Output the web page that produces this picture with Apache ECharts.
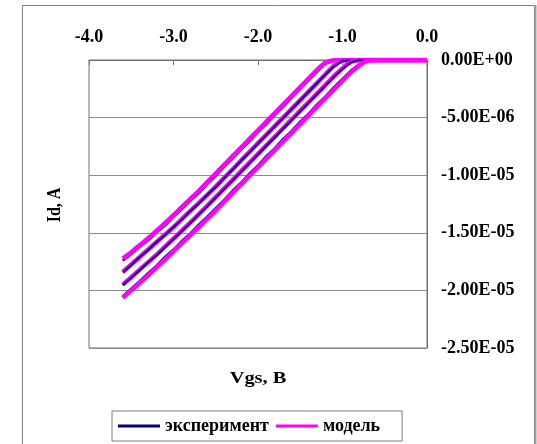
<!DOCTYPE html>
<html>
<head>
<meta charset="utf-8">
<script src="https://cdn.jsdelivr.net/npm/echarts@6/dist/echarts.min.js"></script>
<style>
  html, body { margin: 0; padding: 0; background: #ffffff; }
  #chart { width: 537px; height: 444px; }
</style>
</head>
<body>
<div id="chart"></div>
<script>
// Gate voltage, V
const vgs = [-3.6, -3.5, -3.4, -3.3, -3.2, -3.1, -3.0, -2.9, -2.8, -2.7, -2.6, -2.5, -2.4,
  -2.3, -2.2, -2.1, -2.0, -1.9, -1.8, -1.7, -1.6, -1.5, -1.4, -1.3, -1.2, -1.1, -1.0,
  -0.9, -0.8, -0.7, -0.6, -0.5, -0.4, -0.3, -0.2, -0.1, 0.0];

// Drain current, µA — model curves
const model1 = [-17.24, -16.68, -16.08, -15.47, -14.82, -14.16, -13.46, -12.76, -12.06, -11.35, -10.6, -9.85, -9.1,
  -8.35, -7.6, -6.85, -6.1, -5.35, -4.6, -3.85, -3.1, -2.35, -1.6, -0.86, -0.22, -0.02, 0,
  0, 0, 0, 0, 0, 0, 0, 0, 0, 0];
const model2 = [-18.4, -17.75, -17.1, -16.45, -15.8, -15.15, -14.5, -13.8, -13.1, -12.4, -11.7, -10.98, -10.22,
  -9.48, -8.72, -7.98, -7.22, -6.48, -5.72, -4.98, -4.22, -3.48, -2.72, -1.98, -1.22, -0.5, -0.06,
  0, 0, 0, 0, 0, 0, 0, 0, 0, 0];
const model3 = [-19.5, -18.85, -18.2, -17.55, -16.9, -16.2, -15.5, -14.8, -14.1, -13.38, -12.65, -11.9, -11.15,
  -10.4, -9.65, -8.9, -8.15, -7.4, -6.65, -5.9, -5.15, -4.4, -3.65, -2.9, -2.15, -1.4, -0.72,
  -0.18, 0, 0, 0, 0, 0, 0, 0, 0, 0];
const model4 = [-20.65, -20.0, -19.35, -18.7, -18.0, -17.3, -16.6, -15.9, -15.2, -14.5, -13.78, -13.05, -12.3,
  -11.55, -10.8, -10.05, -9.3, -8.55, -7.8, -7.05, -6.3, -5.55, -4.8, -4.05, -3.3, -2.55, -1.8,
  -1.08, -0.45, -0.08, 0, 0, 0, 0, 0, 0, 0];

// Drain current, µA — measured curves
const exp1 = [-17.4, -16.85, -16.2, -15.65, -14.95, -14.35, -13.6, -12.95, -12.2, -11.55, -10.75, -10.05, -9.25,
  -8.55, -7.75, -7.05, -6.25, -5.55, -4.75, -4.05, -3.25, -2.5, -1.75, -0.98, -0.3, -0.04, 0,
  0, 0, 0, 0, 0, 0, 0, 0, 0, 0];
const exp2 = [-18.45, -17.8, -17.1, -16.5, -15.8, -15.2, -14.5, -13.85, -13.1, -12.45, -11.7, -11.02, -10.25,
  -9.5, -8.75, -8.0, -7.25, -6.5, -5.75, -5.0, -4.25, -3.5, -2.75, -2.0, -1.25, -0.55, -0.08,
  0, 0, 0, 0, 0, 0, 0, 0, 0, 0];
const exp3 = [-19.55, -18.9, -18.25, -17.55, -16.95, -16.25, -15.55, -14.85, -14.15, -13.4, -12.7, -11.95, -11.2,
  -10.45, -9.7, -8.95, -8.2, -7.45, -6.7, -5.95, -5.2, -4.45, -3.7, -2.95, -2.2, -1.45, -0.78,
  -0.2, 0, 0, 0, 0, 0, 0, 0, 0, 0];
const exp4 = [-20.5, -19.85, -19.2, -18.5, -17.85, -17.1, -16.45, -15.7, -15.05, -14.3, -13.6, -12.85, -12.15,
  -11.35, -10.65, -9.85, -9.15, -8.35, -7.65, -6.85, -6.15, -5.35, -4.65, -3.85, -3.15, -2.35, -1.65,
  -0.92, -0.36, -0.05, 0, 0, 0, 0, 0, 0, 0];

const EXP_NAME = 'эксперимент';
const MODEL_NAME = 'модель';
const EXP_COLOR = '#000080';
const MODEL_COLOR = '#ff00ff';
const UA = 1e-6;

const FONT = '"Liberation Serif", "Times New Roman", serif';

function pairs(values) {
  return vgs.map((v, i) => [v, values[i] * UA]);
}

function expSeries(values, width) {
  return {
    name: EXP_NAME, type: 'line', data: pairs(values),
    symbol: 'none', smooth: false, animation: false,
    lineStyle: { color: EXP_COLOR, width: width },
    itemStyle: { color: EXP_COLOR }
  };
}
function modelSeries(values) {
  return {
    name: MODEL_NAME, type: 'line', data: pairs(values),
    symbol: 'none', smooth: 0.3, animation: false,
    lineStyle: { color: MODEL_COLOR, width: 4.5 },
    itemStyle: { color: MODEL_COLOR }
  };
}

function sciLabel(v) {
  const s = Number(v).toExponential(2);
  const [m, e] = s.split('e');
  const sign = e[0] === '-' ? '-' : '+';
  const digits = e.replace(/^[+-]/, '').padStart(2, '0');
  return m + 'E' + sign + digits;
}

const chart = echarts.init(document.getElementById('chart'), null, { renderer: 'canvas' });

chart.setOption({
  backgroundColor: '#ffffff',
  animation: false,
  textStyle: { fontFamily: FONT },
  grid: {
    left: 89, right: 110, top: 60, bottom: 96,
    show: true, borderColor: '#707070', borderWidth: 1, backgroundColor: '#ffffff'
  },
  xAxis: {
    type: 'value', position: 'top', min: -4, max: 0, interval: 1,
    axisLine: { show: true, onZero: false, lineStyle: { color: '#707070', width: 1 } },
    axisTick: { show: true, inside: true, length: 5, lineStyle: { color: '#707070' } },
    splitLine: { show: false },
    axisLabel: {
      margin: 14, color: '#000', fontFamily: FONT, fontWeight: 'bold', fontSize: 18,
      formatter: v => Number(v).toFixed(1)
    }
  },
  yAxis: {
    type: 'value', position: 'right', min: -2.5e-5, max: 0, interval: 5e-6,
    axisLine: { show: true, lineStyle: { color: '#707070', width: 1 } },
    axisTick: { show: false },
    splitLine: { show: true, lineStyle: { color: '#8c8c8c', width: 1 } },
    axisLabel: {
      margin: 14, color: '#000', fontFamily: FONT, fontWeight: 'bold', fontSize: 18,
      formatter: sciLabel
    }
  },
  legend: {
    data: [EXP_NAME, MODEL_NAME],
    left: 112, top: 411,
    orient: 'horizontal',
    icon: 'rect', itemWidth: 42, itemHeight: 3, itemGap: 7,
    padding: [6, 22, 6, 6],
    borderColor: '#7f7f7f', borderWidth: 1,
    selectedMode: false,
    formatter: name => name === EXP_NAME ? '{a|' + name + '}' : '{b|' + name + '}',
    textStyle: {
      color: '#000', fontFamily: FONT, fontWeight: 'bold', fontSize: 18,
      rich: {
        a: { width: 108, fontFamily: FONT, fontWeight: 'bold', fontSize: 18, color: '#000' },
        b: { fontFamily: FONT, fontWeight: 'bold', fontSize: 18, color: '#000' }
      }
    }
  },
  graphic: [
    {
      type: 'rect', silent: true, z: -10,
      shape: { x: 22.5, y: 5.5, width: 512, height: 460 },
      style: { fill: null, stroke: '#808080', lineWidth: 1 }
    },
    {
      type: 'line', silent: true,
      shape: { x1: 535.5, y1: 5, x2: 535.5, y2: 444 },
      style: { stroke: '#a0a0a0', lineWidth: 2 }
    },
    {
      type: 'text', silent: true,
      x: 55, y: 205, rotation: Math.PI / 2, scaleY: 1.15,
      style: {
        text: 'Id, A', fill: '#000', font: 'bold 16px ' + FONT,
        textAlign: 'center', textVerticalAlign: 'middle'
      }
    },
    {
      type: 'text', silent: true,
      x: 258, y: 379, scaleX: 1.2,
      style: {
        text: 'Vgs, B', fill: '#000', font: 'bold 17px ' + FONT,
        textAlign: 'center', textVerticalAlign: 'middle'
      }
    }
  ],
  series: [
    expSeries(exp1, 2.5), modelSeries(model1),
    modelSeries(model2), expSeries(exp2, 2),
    modelSeries(model3), expSeries(exp3, 2),
    expSeries(exp4, 2.5), modelSeries(model4)
  ]
});
</script>
</body>
</html>
